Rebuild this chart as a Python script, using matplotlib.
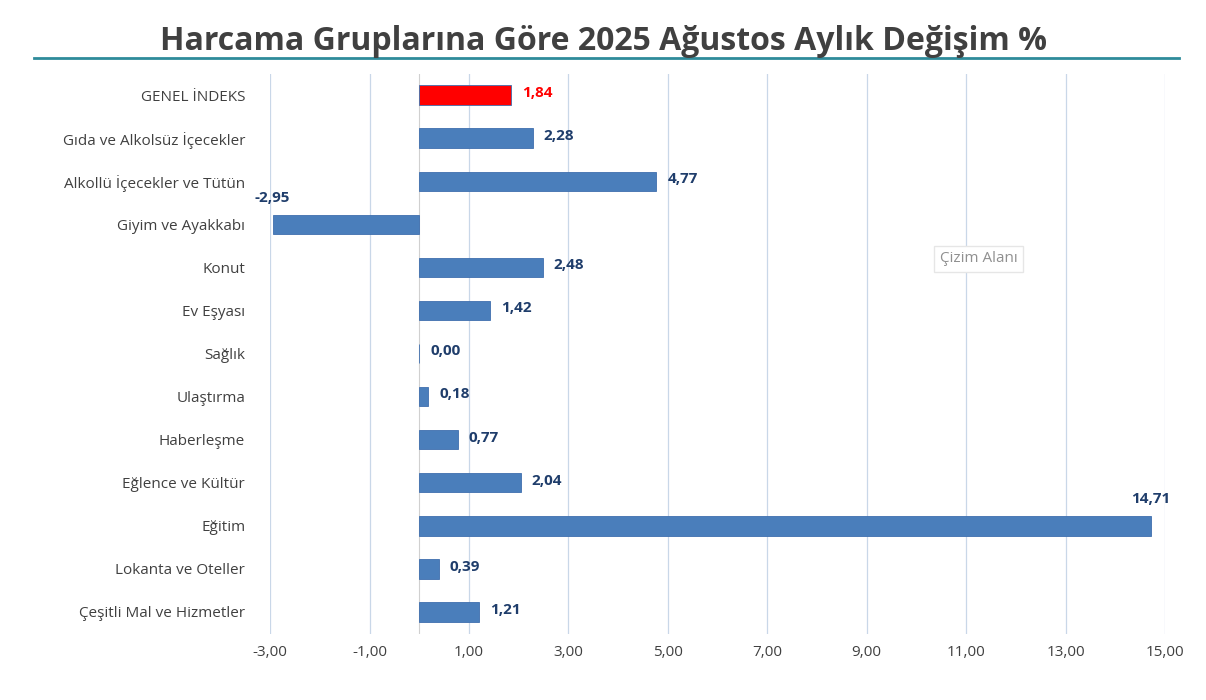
import matplotlib
matplotlib.use("Agg")
import matplotlib.pyplot as plt
from matplotlib.lines import Line2D

#Data
categories = ["GENEL İNDEKS", "Gıda ve Alkolsüz İçecekler", "Alkollü İçecekler ve Tütün",
              "Giyim ve Ayakkabı", "Konut", "Ev Eşyası", "Sağlık", "Ulaştırma", "Haberleşme",
              "Eğlence ve Kültür", "Eğitim", "Lokanta ve Oteller", "Çeşitli Mal ve Hizmetler"]
values = [1.84, 2.28, 4.77, -2.95, 2.48, 1.42, 0.00, 0.18, 0.77, 2.04, 14.71, 0.39, 1.21]
xticks = [-3, -1, 1, 3, 5, 7, 9, 11, 13, 15]

plt.rcParams['font.family'] = ['Open Sans', 'DejaVu Sans']

fig = plt.figure(figsize=(12.06, 7.0), dpi=100)
ax = fig.add_axes([0.224, 0.095, 0.742, 0.80])

ypos = list(range(len(categories)))
colors = ['#ff0000'] + ['#4a7ebb'] * (len(categories) - 1)
ax.barh(ypos, values, height=0.45, color=colors, edgecolor='#3f6fae', linewidth=0.6, zorder=3)

#Value labels
for i, v in enumerate(values):
    txt = f"{v:.2f}".replace('.', ',')
    c = '#ff0000' if i == 0 else '#1f3d6b'
    if v < 0 or v > 10:
        ax.text(v, i - 0.45, txt, ha='center', va='bottom', fontsize=11, fontweight='bold', color=c)
    else:
        ax.text(v + 0.22, i - 0.05, txt, ha='left', va='center', fontsize=11, fontweight='bold', color=c)

ax.set_xlim(-3, 15)
ax.set_ylim(len(categories) - 0.5, -0.5)
ax.set_xticks(xticks)
ax.set_xticklabels([f"{t:.2f}".replace('.', ',') for t in xticks], fontsize=11, color='#404040')
ax.set_yticks(ypos)
ax.set_yticklabels(categories, fontsize=11, color='#404040')
ax.tick_params(length=0, pad=18)
ax.tick_params(axis='x', pad=8)
ax.grid(axis='x', color='#c9d7e8', linewidth=0.9, zorder=0)
ax.axvline(0, color='#d0d0d0', linewidth=0.8, zorder=2)
for s in ax.spines.values():
    s.set_visible(False)

fig.text(0.5, 0.94, "Harcama Gruplarına Göre 2025 Ağustos Aylık Değişim %", ha='center', va='center',
         fontsize=23, fontweight='bold', color='#404040')
fig.add_artist(Line2D([0.028, 0.978], [0.917, 0.917], color='#2e8b9a', linewidth=2))

ax.text(11.25, 3.8, "Çizim Alanı", fontsize=11, color='#909090', ha='center', va='center',
        bbox=dict(boxstyle='square,pad=0.35', facecolor='white', edgecolor='#e6e6e6'), zorder=5)

fig.savefig("out.png", dpi=100)
